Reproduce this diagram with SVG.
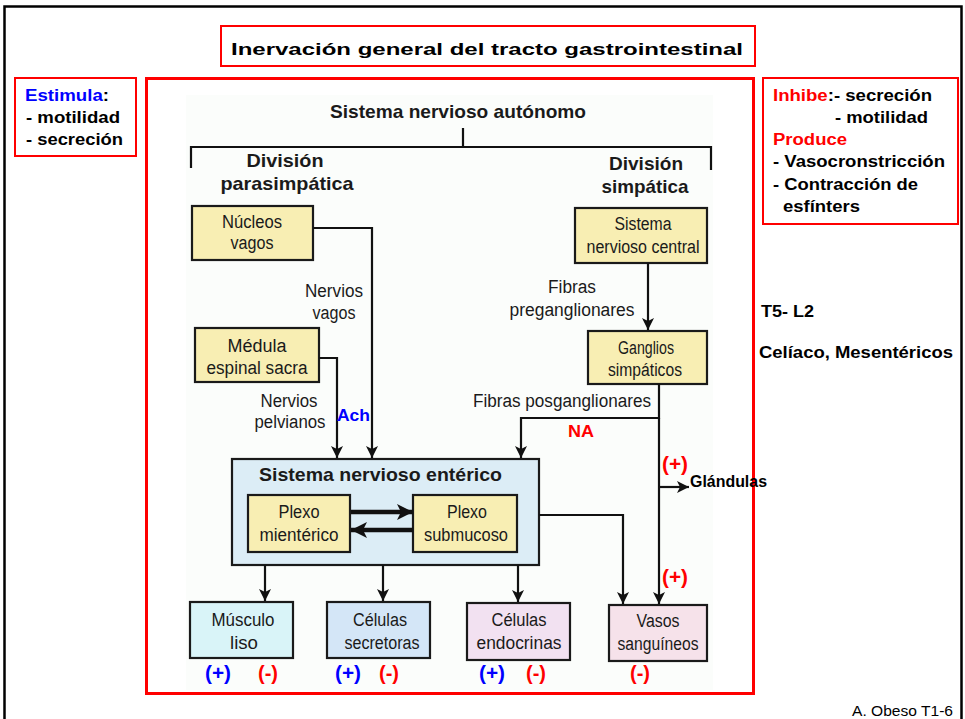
<svg xmlns="http://www.w3.org/2000/svg" width="965" height="719" viewBox="0 0 965 719">
  <style>
    .frame { fill: none; stroke: #000; stroke-width: 2.5; }
    .redbox { fill: #fff; stroke: #ff0000; stroke-width: 2; }
    .hd { font-family: "Liberation Sans", Arial, sans-serif; font-weight: bold; font-size: 16px; fill: #000; }
    .red { fill: #ff0000; }
    .blue { fill: #0000ff; }
    .lbl { font-family: "Liberation Sans", Arial, sans-serif; font-size: 18px; fill: #1a1a1a; text-anchor: middle; }
    .bold { font-family: "Liberation Sans", Arial, sans-serif; font-weight: bold; font-size: 19px; fill: #1a1a1a; }
    .node { stroke: #1a1a1a; stroke-width: 2.2; }
    .yellow { fill: #f8eeb3; }
    .sign { font-family: "Liberation Sans", Arial, sans-serif; font-weight: bold; font-size: 20px; text-anchor: middle; }
    .wire { fill: none; stroke: #111; stroke-width: 2.2; }
    .thick { fill: none; stroke: #111; stroke-width: 4.5; }
  </style>
  <defs>
    <marker id="arrow" markerUnits="userSpaceOnUse" markerWidth="12" markerHeight="14" refX="12" refY="6" orient="auto">
      <path d="M0,0 L12,6 L0,12 L3,6 z" fill="#111"/>
    </marker>
    <marker id="arrowBig" markerUnits="userSpaceOnUse" markerWidth="16" markerHeight="18" refX="16" refY="8" orient="auto">
      <path d="M0,0 L16,8 L0,16 L4,8 z" fill="#111"/>
    </marker>
  </defs>

  <rect width="965" height="719" fill="#fff"/>
  <!-- outer slide frame -->
  <rect class="frame" x="4.5" y="6.5" width="957" height="730"/>

  <!-- title -->
  <g id="title">
    <rect class="redbox" x="221" y="26" width="534" height="40"/>
    <text class="hd" x="487" y="55" font-size="26" text-anchor="middle" textLength="512" lengthAdjust="spacingAndGlyphs">Inervación general del tracto gastrointestinal</text>
  </g>

  <!-- parasympathetic effects -->
  <g id="estimula">
    <rect class="redbox" x="15" y="78" width="121" height="78"/>
    <text class="hd" x="25" y="101" textLength="84" lengthAdjust="spacingAndGlyphs"><tspan class="blue">Estimula</tspan>:</text>
    <text class="hd" x="26" y="123" textLength="94" lengthAdjust="spacingAndGlyphs">- motilidad</text>
    <text class="hd" x="26" y="145" textLength="97" lengthAdjust="spacingAndGlyphs">- secreción</text>
  </g>

  <!-- sympathetic effects -->
  <g id="inhibe">
    <rect class="redbox" x="763" y="78" width="195" height="146"/>
    <text class="hd" x="773" y="101" textLength="159" lengthAdjust="spacingAndGlyphs"><tspan class="red">Inhibe</tspan>:- secreción</text>
    <text class="hd" x="835" y="123" textLength="93" lengthAdjust="spacingAndGlyphs">- motilidad</text>
    <text class="hd red" x="773" y="145" textLength="74" lengthAdjust="spacingAndGlyphs">Produce</text>
    <text class="hd" x="773" y="167" textLength="172" lengthAdjust="spacingAndGlyphs">- Vasocronstricción</text>
    <text class="hd" x="773" y="190" textLength="145" lengthAdjust="spacingAndGlyphs">- Contracción de</text>
    <text class="hd" x="783" y="212" textLength="77" lengthAdjust="spacingAndGlyphs">esfínters</text>
  </g>

  <g id="ganglia-notes">
    <text class="hd" x="761" y="317" textLength="53" lengthAdjust="spacingAndGlyphs">T5- L2</text>
    <text class="hd" x="759" y="358" textLength="194" lengthAdjust="spacingAndGlyphs">Celíaco, Mesentéricos</text>
  </g>

  <!-- main frame with the autonomic scheme -->
  <rect x="146.5" y="78.5" width="607" height="615" fill="#fff" stroke="#ff0000" stroke-width="3"/>
  <rect x="186" y="95" width="527" height="595" fill="#fbfdfb"/>

  <g id="ans-header">
    <text class="bold" x="458" y="118" text-anchor="middle" textLength="256" lengthAdjust="spacingAndGlyphs">Sistema nervioso autónomo</text>
    <path class="wire" d="M463,128 V147 M191,147 H711 M191,146 V168 M711,146 V170"/>
    <text class="bold" x="285" y="167" text-anchor="middle" textLength="77" lengthAdjust="spacingAndGlyphs">División</text>
    <text class="bold" x="287" y="190" text-anchor="middle" textLength="133" lengthAdjust="spacingAndGlyphs">parasimpática</text>
    <text class="bold" x="646" y="170" text-anchor="middle" textLength="74" lengthAdjust="spacingAndGlyphs">División</text>
    <text class="bold" x="645" y="193" text-anchor="middle" textLength="87" lengthAdjust="spacingAndGlyphs">simpática</text>
  </g>

  <g id="nucleos-vagos">
    <rect class="node yellow" x="192" y="206" width="121" height="54"/>
    <text class="lbl" x="252" y="228" textLength="60" lengthAdjust="spacingAndGlyphs">Núcleos</text>
    <text class="lbl" x="252" y="249" textLength="43" lengthAdjust="spacingAndGlyphs">vagos</text>
  </g>

  <g id="medula-sacra">
    <rect class="node yellow" x="195" y="328" width="124" height="54"/>
    <text class="lbl" x="257" y="352" textLength="59" lengthAdjust="spacingAndGlyphs">Médula</text>
    <text class="lbl" x="257" y="374" textLength="101" lengthAdjust="spacingAndGlyphs">espinal sacra</text>
  </g>

  <g id="snc">
    <rect class="node yellow" x="575" y="208" width="132" height="55"/>
    <text class="lbl" x="643" y="230" textLength="57" lengthAdjust="spacingAndGlyphs">Sistema</text>
    <text class="lbl" x="643" y="253" textLength="113" lengthAdjust="spacingAndGlyphs">nervioso central</text>
  </g>

  <g id="ganglios">
    <rect class="node yellow" x="588" y="331" width="119" height="53"/>
    <text class="lbl" x="646" y="354" textLength="56" lengthAdjust="spacingAndGlyphs">Ganglios</text>
    <text class="lbl" x="645" y="376" textLength="74" lengthAdjust="spacingAndGlyphs">simpáticos</text>
  </g>

  <g id="sne">
    <rect class="node" x="232" y="459" width="307" height="106" fill="#dcedf6"/>
    <text class="bold" x="259" y="481" textLength="243" lengthAdjust="spacingAndGlyphs">Sistema nervioso entérico</text>
  </g>

  <g id="plexo-mienterico">
    <rect class="node yellow" x="248" y="495" width="102" height="57"/>
    <text class="lbl" x="299" y="518" textLength="41" lengthAdjust="spacingAndGlyphs">Plexo</text>
    <text class="lbl" x="299" y="541" textLength="79" lengthAdjust="spacingAndGlyphs">mientérico</text>
  </g>

  <g id="plexo-submucoso">
    <rect class="node yellow" x="413" y="495" width="104" height="57"/>
    <text class="lbl" x="467" y="518" textLength="40" lengthAdjust="spacingAndGlyphs">Plexo</text>
    <text class="lbl" x="466" y="541" textLength="84" lengthAdjust="spacingAndGlyphs">submucoso</text>
  </g>

  <g id="musculo-liso">
    <rect class="node" x="190" y="602" width="103" height="56" fill="#d9f4f8"/>
    <text class="lbl" x="243" y="626" textLength="63" lengthAdjust="spacingAndGlyphs">Músculo</text>
    <text class="lbl" x="244" y="649" textLength="28" lengthAdjust="spacingAndGlyphs">liso</text>
  </g>

  <g id="celulas-secretoras">
    <rect class="node" x="327" y="602" width="103" height="56" fill="#d4e6f7"/>
    <text class="lbl" x="380" y="626" textLength="54" lengthAdjust="spacingAndGlyphs">Células</text>
    <text class="lbl" x="382" y="649" textLength="75" lengthAdjust="spacingAndGlyphs">secretoras</text>
  </g>

  <g id="celulas-endocrinas">
    <rect class="node" x="467" y="603" width="103" height="57" fill="#f2e1f1"/>
    <text class="lbl" x="519" y="626" textLength="55" lengthAdjust="spacingAndGlyphs">Células</text>
    <text class="lbl" x="519" y="649" textLength="85" lengthAdjust="spacingAndGlyphs">endocrinas</text>
  </g>

  <g id="vasos-sanguineos">
    <rect class="node" x="609" y="605" width="98" height="56" fill="#f6e2ea"/>
    <text class="lbl" x="658" y="627" textLength="43" lengthAdjust="spacingAndGlyphs">Vasos</text>
    <text class="lbl" x="658" y="650" textLength="81" lengthAdjust="spacingAndGlyphs">sanguíneos</text>
  </g>

  <!-- connectors -->
  <g id="connectors">
    <path class="wire" d="M313,228 H372 V458" marker-end="url(#arrow)"/>
    <path class="wire" d="M319,358 H337 V458" marker-end="url(#arrow)"/>
    <path class="wire" d="M648,263 V330" marker-end="url(#arrow)"/>
    <path class="wire" d="M659,384 V418 H521 V458" marker-end="url(#arrow)"/>
    <path class="wire" d="M659,418 V604" marker-end="url(#arrow)"/>
    <path class="wire" d="M659,487 H689" marker-end="url(#arrow)"/>
    <path class="wire" d="M539,515 H623 V604" marker-end="url(#arrow)"/>
    <path class="wire" d="M265,565 V601" marker-end="url(#arrow)"/>
    <path class="wire" d="M383,565 V601" marker-end="url(#arrow)"/>
    <path class="wire" d="M518,565 V602" marker-end="url(#arrow)"/>
    <path class="thick" d="M351,512 H413" marker-end="url(#arrowBig)"/>
    <path class="thick" d="M413,530 H351" marker-end="url(#arrowBig)"/>
  </g>

  <!-- connector labels -->
  <g id="connector-labels">
    <text class="lbl" x="334" y="297" textLength="58" lengthAdjust="spacingAndGlyphs">Nervios</text>
    <text class="lbl" x="334" y="319" textLength="43" lengthAdjust="spacingAndGlyphs">vagos</text>
    <text class="lbl" x="289" y="407" textLength="57" lengthAdjust="spacingAndGlyphs">Nervios</text>
    <text class="lbl" x="290" y="428" textLength="71" lengthAdjust="spacingAndGlyphs">pelvianos</text>
    <text class="lbl" x="572" y="293" textLength="48" lengthAdjust="spacingAndGlyphs">Fibras</text>
    <text class="lbl" x="572" y="316" textLength="125" lengthAdjust="spacingAndGlyphs">preganglionares</text>
    <text class="lbl" x="562" y="407" textLength="178" lengthAdjust="spacingAndGlyphs">Fibras posganglionares</text>
    <text class="hd blue" x="337" y="421" font-size="18" textLength="33" lengthAdjust="spacingAndGlyphs">Ach</text>
    <text class="hd red" x="568" y="437" font-size="18" textLength="26" lengthAdjust="spacingAndGlyphs">NA</text>
    <text class="sign red" x="675" y="471" textLength="26" lengthAdjust="spacingAndGlyphs">(+)</text>
    <text class="hd" x="690" y="487" font-size="12" textLength="77" lengthAdjust="spacingAndGlyphs">Glándulas</text>
    <text class="sign red" x="675" y="584" textLength="26" lengthAdjust="spacingAndGlyphs">(+)</text>
  </g>

  <!-- effect signs under the targets -->
  <g id="effect-signs">
    <text class="sign blue" x="218" y="680" textLength="26" lengthAdjust="spacingAndGlyphs">(+)</text>
    <text class="sign red" x="268" y="680" textLength="20" lengthAdjust="spacingAndGlyphs">(-)</text>
    <text class="sign blue" x="348" y="680" textLength="26" lengthAdjust="spacingAndGlyphs">(+)</text>
    <text class="sign red" x="389" y="680" textLength="20" lengthAdjust="spacingAndGlyphs">(-)</text>
    <text class="sign blue" x="492" y="680" textLength="26" lengthAdjust="spacingAndGlyphs">(+)</text>
    <text class="sign red" x="536" y="680" textLength="20" lengthAdjust="spacingAndGlyphs">(-)</text>
    <text class="sign red" x="640" y="680" textLength="20" lengthAdjust="spacingAndGlyphs">(-)</text>
  </g>

  <text x="953" y="716" font-family="'Liberation Sans', Arial, sans-serif" font-size="14" text-anchor="end" textLength="101" lengthAdjust="spacingAndGlyphs" fill="#000">A. Obeso T1-6</text>
</svg>
